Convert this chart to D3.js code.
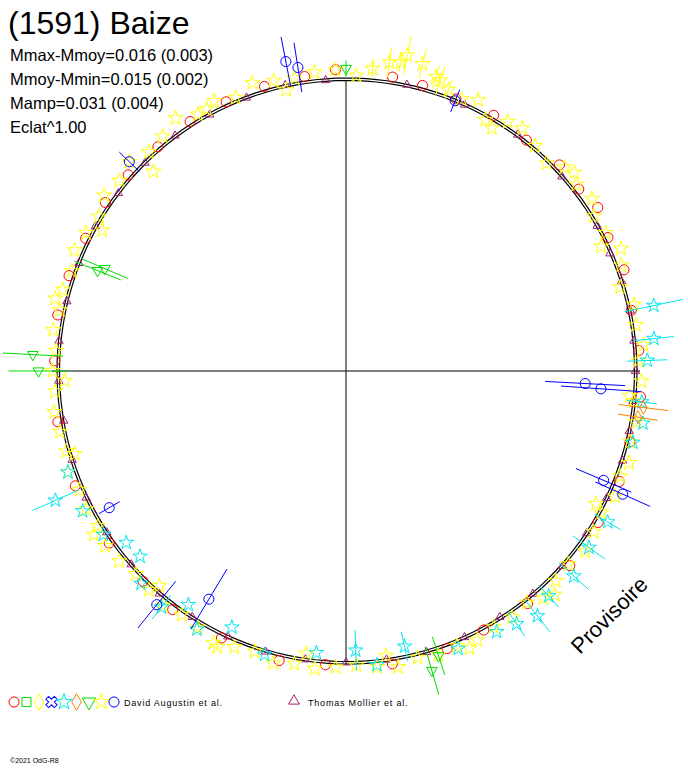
<!DOCTYPE html>
<html><head><meta charset="utf-8">
<script src="https://cdn.jsdelivr.net/npm/d3@7"></script>
<style>body{margin:0;background:#fff}svg{display:block}</style>
</head><body>
<script>
// phase in degrees (clockwise from top), dmag = radial deviation (mag, + outward), err in mag
const yellowPhase = [2,5,8,11,14,17,20,23,26,29,33,36,40,44,47,51,55,58,62,66,69,73,77,81,85,88,92,96,100,104,108,111,115,119,123,127,131,135,139,142,146,150,154,158,162,166,170,174,178,182,186,190,194,198,202,206,210,214,218,222,226,230,234,238,242,246,250,254,258,262,266,270,274,278,282,286,290,294,298,302,306,310,314,318,322,326,330,334,338,342,346,350,354,358,10,18,31,49,64,95,118,137,156,172,188,205,221,237,253,268,284,300,316,332,348];
const yellowMag = [0.004,0.012,0.02,0.03,0.025,0.016,0.008,0.004,0.010,-0.004,0.006,0.009,0.003,-0.002,0.008,0.006,0.010,0.002,0.004,0.011,0.005,-0.003,0.006,0.004,0.009,0.003,0.006,0.0,0.005,0.003,0.008,0.004,0.007,0.002,0.005,0.009,0.004,0.006,0.010,0.003,0.006,0.004,0.008,0.005,0.007,0.004,0.009,0.006,0.003,0.005,0.008,0.006,0.010,0.004,0.007,0.012,0.006,0.004,0.008,0.005,0.003,0.007,0.009,0.004,0.006,0.004,0.008,0.003,0.005,0.007,0.004,0.006,0.003,0.008,0.005,0.007,0.004,0.009,0.006,0.003,0.010,0.007,0.012,0.005,0.008,0.015,0.006,0.010,0.004,0.012,0.008,0.006,0.009,0.010,0.022,0.014,-0.008,0.012,-0.006,-0.005,-0.007,0.015,0.012,-0.004,-0.006,0.014,-0.005,0.012,-0.004,-0.006,0.012,-0.007,-0.012,0.006,-0.004];
const yellowErr = [0,0.01,0.015,0.02,0.015,0.012,0.01,0,0,0,0,0,0,0,0,0,0,0,0,0,0,0,0,0,0,0,0,0,0,0,0,0,0,0,0,0,0,0,0,0,0,0,0,0,0,0,0,0,0,0,0,0,0,0,0,0,0,0,0,0,0,0,0,0,0,0,0,0,0,0,0,0,0,0,0,0,0,0,0,0,0,0,0,0,0,0,0,0,0,0,0,0,0,0,0.01,0.015,0,0,0,0,0,0,0,0,0,0,0,0,0,0,0,0,0,0,0];
const redPhase = [352,358,9,15,22,30,38,46,52,57,63,70,78,86,95,104,112,121,131,142,152,160,171,184,193,205,216,224,234,247,260,272,281,289,297,305,312,320,328,336,344];
const redMag = [0.006,0.010,0.006,0.004,0.002,0.004,0.002,0.006,0.005,0.010,0.004,0.006,0.002,0.004,0.006,0.003,0.005,0.004,0.006,0.004,0.002,0.004,0.005,0.003,0.006,0.004,0.005,0.003,0.004,0.006,0.005,0.004,0.006,0.005,0.004,0.005,0.004,0.003,0.004,0.004,0.005];
const purplePhase = [12,24,36,48,60,66,72,78,84,90,96,102,108,116,124,132,140,148,156,164,172,180,188,196,204,212,220,228,236,244,252,260,268,276,284,292,300,308,316,324,332,340,348,356];
const purpleMag = [0.001,0.0,0.001,0.0,0.0,-0.001,0.0,0.001,0.0,0.0,-0.001,0.0,0.001,0.0,0.0,0.001,0.0,-0.001,0.0,0.001,0.0,0.0,0.0,0.001,0.0,0.0,0.001,0.0,0.0,0.001,0.0,-0.001,0.0,0.001,0.0,0.0,0.001,0.0,0.0,0.001,0.0,0.0,0.001,0.0];
const cyanPhase = [78,84,88,96,100,104,120,126,132,138,142,146,150,158,168,174,178,186,196,204,210,214,218,224,228,232,236,242,246,250];
const cyanMag = [0.025,0.02,0.012,0.008,0.012,0.006,0.012,0.010,0.016,0.012,0.020,0.014,0.010,0.008,-0.010,0.004,-0.012,-0.008,0.004,-0.010,0.008,-0.008,0.010,0.006,-0.012,-0.010,0.004,0.010,0.030,0.008];
const cyanErr = [0.03,0.02,0.02,0.015,0,0,0.015,0.02,0.02,0.015,0.02,0.015,0,0,0.015,0,0.02,0,0,0,0,0,0.015,0,0,0,0,0,0.025,0];
const bluePhase = [349,351,22,93,94,113,114,211,219,240,314];
const blueMag = [0.024,0.016,0.0,-0.050,-0.034,-0.010,0.013,-0.024,0.011,-0.015,0.012];
const blueErr = [0.025,0.025,0.012,0.04,0.04,0.03,0.03,0.035,0.03,0.012,0.014];
const greenPhase = [0,292,293,273,270,164,162];
const greenMag = [0.011,-0.020,-0.026,0.026,0.020,0.02,0.008];
const greenErr = [0.008,0.025,0.025,0.03,0.03,0.025,0.02];
const orangePhase = [97,99];
const orangeMag = [0.010,0.006];
const orangeErr = [0.025,0.02];
const infoLines = ["Mmax-Mmoy=0.016 (0.003)","Mmoy-Mmin=0.015 (0.002)","Mamp=0.031 (0.004)","Eclat^1.00"];

const W=688,H=768,cx=346,cy=371;
const svg=d3.select("body").append("svg").attr("width",W).attr("height",H).style("font-family","Liberation Sans, Arial, sans-serif");
const rS=d3.scaleLinear().domain([-0.05,0.05]).range([240,340]);
const fit=a=>0.0015*Math.cos(2*a*Math.PI/180)+0.001*Math.sin(a*Math.PI/180);
const pt=(a,m)=>{const r=rS(m+fit(a)),t=a*Math.PI/180;return [cx+r*Math.sin(t),cy-r*Math.cos(t)];};

svg.append("line").attr("x1",cx).attr("x2",cx).attr("y1",cy-290).attr("y2",665).attr("stroke","#000");
svg.append("line").attr("x1",52).attr("x2",640).attr("y1",cy).attr("y2",cy).attr("stroke","#000");
const ang=d3.range(0,361,2);
[-0.001,0.0015].forEach(o=>svg.append("path").attr("d",d3.line()(ang.map(a=>pt(a,o)))).attr("fill","none").attr("stroke","#000").attr("stroke-width",1.2));

const triDown=d3.symbolTriangle;
function series(ph,mg,er,sym,col,size,rot){
  const g=svg.append("g");
  ph.forEach((a,i)=>{
    const e=er?er[i]:0;
    if(e>0){const p1=pt(a,mg[i]-e),p2=pt(a,mg[i]+e);
      g.append("line").attr("x1",p1[0]).attr("y1",p1[1]).attr("x2",p2[0]).attr("y2",p2[1]).attr("stroke",col);}
    const p=pt(a,mg[i]);
    g.append("path").attr("d",d3.symbol().type(sym).size(size)()).attr("transform",`translate(${p})`+(rot?` rotate(${rot})`:"")).attr("fill","none").attr("stroke",col);
  });
}
series(purplePhase,purpleMag,null,d3.symbolTriangle,"#a0206f",30);
series(redPhase,redMag,null,d3.symbolCircle,"#ff0000",80);
series(yellowPhase,yellowMag,yellowErr,d3.symbolStar,"#ffff00",70);
series(cyanPhase,cyanMag,cyanErr,d3.symbolStar,"#00e5ee",65);
series(bluePhase,blueMag,blueErr,d3.symbolCircle,"#0000ff",80);
series(greenPhase,greenMag,greenErr,triDown,"#00dd00",50,180);
series(orangePhase,orangeMag,orangeErr,d3.symbolDiamond,"#ff8000",50);

svg.append("text").attr("x",8).attr("y",34).attr("font-size",32).text("(1591) Baize");
svg.selectAll(".info").data(infoLines).join("text").attr("x",10).attr("y",(d,i)=>61+i*24).attr("font-size",16.5).text(d=>d);
svg.append("text").attr("transform","translate(580,655) rotate(-45)").attr("font-size",22).text("Provisoire");

const leg=[[d3.symbolCircle,"#ff0000",0],[d3.symbolSquare,"#00dd00",0],[d3.symbolDiamond,"#ffff00",0],[d3.symbolCross,"#0000ff",45],[d3.symbolStar,"#00e5ee",0],[d3.symbolDiamond,"#ff8000",0],[d3.symbolTriangle,"#00dd00",180],[d3.symbolStar,"#ffff00",0],[d3.symbolCircle,"#0000ff",0]];
leg.forEach((l,i)=>svg.append("path").attr("d",d3.symbol().type(l[0]).size(80)()).attr("transform",`translate(${14+i*12.5},702) rotate(${l[2]})`).attr("fill","none").attr("stroke",l[1]));
svg.append("text").attr("x",124).attr("y",706).attr("font-size",9).attr("letter-spacing",0.8).text("David Augustin et al.");
svg.append("path").attr("d",d3.symbol().type(d3.symbolTriangle).size(50)()).attr("transform","translate(294,701)").attr("fill","none").attr("stroke","#a0206f");
svg.append("text").attr("x",308).attr("y",706).attr("font-size",9).attr("letter-spacing",0.8).text("Thomas Mollier et al.");
svg.append("text").attr("x",10).attr("y",763).attr("font-size",7).text("©2021 OdG-R8");
</script>
</body></html>
